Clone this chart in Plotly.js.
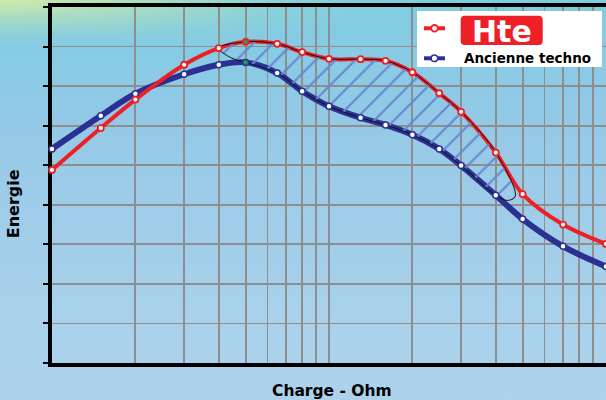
<!DOCTYPE html>
<html>
<head>
<meta charset="utf-8">
<script src="https://cdn.plot.ly/plotly-3.0.1.min.js"></script>
<style>
  html, body { margin: 0; padding: 0; width: 606px; height: 400px; overflow: hidden; }
  body {
    background:
      radial-gradient(ellipse 400px 48px at 0px 0px, rgba(212,236,165,0.95) 0%, rgba(190,228,180,0.6) 40%, rgba(160,218,200,0.25) 75%, rgba(130,205,225,0) 100%),
      linear-gradient(to bottom, #7fcde0 0%, #86cbe4 12%, #93c9e6 30%, #a0cde9 55%, #a9d1eb 80%, #add3ec 100%);
  }
  #chart { width: 606px; height: 400px; }
</style>
</head>
<body>
<div id="chart"></div>
<script>
// ---- Data ----
const chargeOhm = [1, 1.5, 2, 3, 4, 5, 6.5, 8, 10, 13, 16, 20, 25, 30, 40, 50, 70, 100];
const hteEnergy = [4.88, 5.94, 6.66, 7.54, 7.96, 8.12, 8.07, 7.86, 7.69, 7.68, 7.64, 7.35, 6.82, 6.35, 5.32, 4.27, 3.50, 3.01];
const ancienneEnergy = [5.41, 6.25, 6.81, 7.30, 7.54, 7.60, 7.33, 6.87, 6.49, 6.20, 6.02, 5.77, 5.41, 4.99, 4.24, 3.64, 2.95, 2.44];
const xTickVals = [1, 2, 3, 4, 5, 6, 7, 8, 9, 10, 20, 30, 40, 50, 60, 70, 80, 90, 100];
const seriesNames = ['Hte', 'Ancienne techno'];
// gain zone (hatched) : from Hte x=4 to x=40, Ancienne from x=40 back to x=5
const gainStartHte = 4, gainEndHte = 40, gainStartOld = 5;
const gainTipX = [47, 44];
const gainTipY = [4.21, 4.11];
const gainLeftCapX = [4.45];
const gainLeftCapY = [7.71];

// ---- Styles ----
const RED = '#ee1f26', BLUE = '#2b3192', GREEN = '#1f9e55', GRID = '#8e8e8e';
const FONT = 'DejaVu Sans, Liberation Sans, Arial, sans-serif';

// build hatched zone from the series
const iA = chargeOhm.indexOf(gainStartHte), iB = chargeOhm.indexOf(gainEndHte), iC = chargeOhm.indexOf(gainStartOld);
const zoneX = [], zoneY = [];
for (let i = iA; i <= iB; i++) { zoneX.push(chargeOhm[i]); zoneY.push(hteEnergy[i]); }
gainTipX.forEach((v, k) => { zoneX.push(v); zoneY.push(gainTipY[k]); });
for (let i = iB; i >= iC; i--) { zoneX.push(chargeOhm[i]); zoneY.push(ancienneEnergy[i]); }
gainLeftCapX.forEach((v, k) => { zoneX.push(v); zoneY.push(gainLeftCapY[k]); });
zoneX.push(chargeOhm[iA]); zoneY.push(hteEnergy[iA]);

const peakIdx = chargeOhm.indexOf(5);
const redMarkerColors = chargeOhm.map((_, i) => i === peakIdx ? GREEN : '#ffffff');
const blueMarkerColors = chargeOhm.map((_, i) => i === peakIdx ? GREEN : '#ffffff');

const traces = [
  { x: chargeOhm, y: ancienneEnergy, name: seriesNames[1], mode: 'lines', type: 'scatter',
    line: { color: BLUE, width: 6, shape: 'spline', smoothing: 1 }, showlegend: false, hoverinfo: 'skip' },
  { x: chargeOhm, y: hteEnergy, name: seriesNames[0], mode: 'lines', type: 'scatter',
    line: { color: RED, width: 4, shape: 'spline', smoothing: 1 }, showlegend: false, hoverinfo: 'skip' },
  { x: zoneX, y: zoneY, mode: 'lines', type: 'scatter', fill: 'toself',
    fillcolor: 'rgba(0,0,0,0)',
    fillpattern: { shape: '/', fgcolor: '#6788d0', bgcolor: 'rgba(0,0,0,0)', size: 14, solidity: 0.15, fillmode: 'replace' },
    line: { color: '#111111', width: 1, shape: 'spline', smoothing: 1 }, showlegend: false, hoverinfo: 'skip' },
  { x: chargeOhm, y: ancienneEnergy, name: seriesNames[1], mode: 'markers', type: 'scatter', cliponaxis: false,
    marker: { size: 6, color: blueMarkerColors, line: { color: BLUE, width: 1.5 } }, showlegend: false },
  { x: chargeOhm, y: hteEnergy, name: seriesNames[0], mode: 'markers', type: 'scatter', cliponaxis: false,
    marker: { size: 6, color: redMarkerColors, line: { color: RED, width: 1.8 } }, showlegend: false }
];

// pixel -> paper helpers for the hand-made legend
const L = 52, W = 554, B = 363, H = 356;
const px = x => (x - L) / W;
const py = y => (B - y) / H;

function roundRect(x0, y0, x1, y1, r) {
  const P = (x, y) => px(x) + ',' + py(y);
  return 'M' + P(x0 + r, y0) + ' L' + P(x1 - r, y0) + ' Q' + P(x1, y0) + ' ' + P(x1, y0 + r) +
    ' L' + P(x1, y1 - r) + ' Q' + P(x1, y1) + ' ' + P(x1 - r, y1) +
    ' L' + P(x0 + r, y1) + ' Q' + P(x0, y1) + ' ' + P(x0, y1 - r) +
    ' L' + P(x0, y0 + r) + ' Q' + P(x0, y0) + ' ' + P(x0 + r, y0) + ' Z';
}
function circ(cx, cy, r, fill, stroke, w) {
  return { type: 'circle', xref: 'paper', yref: 'paper', x0: px(cx - r), x1: px(cx + r), y0: py(cy + r), y1: py(cy - r),
    fillcolor: fill, line: { color: stroke, width: w } };
}

const shapes = [
  { type: 'rect', xref: 'paper', yref: 'paper', x0: px(417), x1: px(602), y0: py(67), y1: py(11),
    fillcolor: '#ffffff', line: { width: 0 } },
  { type: 'path', xref: 'paper', yref: 'paper', path: roundRect(460.7, 15.7, 542.7, 45, 4),
    fillcolor: '#ee1f26', line: { width: 0 } },
  { type: 'line', xref: 'paper', yref: 'paper', x0: px(424), x1: px(445), y0: py(28.3), y1: py(28.3),
    line: { color: RED, width: 4 } },
  circ(434.5, 28.3, 3.3, '#ffffff', RED, 1.8),
  { type: 'line', xref: 'paper', yref: 'paper', x0: px(424), x1: px(445), y0: py(58.3), y1: py(58.3),
    line: { color: BLUE, width: 4 } },
  circ(434.5, 58.3, 3.3, '#ffffff', BLUE, 1.5)
];

const annotations = [
  { xref: 'paper', yref: 'paper', x: px(501.7), y: py(31), xanchor: 'center', yanchor: 'middle', showarrow: false,
    text: '<b>' + seriesNames[0] + '</b>', font: { family: FONT, size: 30, color: '#ffffff' } },
  { xref: 'paper', yref: 'paper', x: px(462), y: py(57.5), xanchor: 'left', yanchor: 'middle', showarrow: false,
    text: '<b>' + seriesNames[1] + '</b>', font: { family: FONT, size: 13.5, color: '#000000' } },
  { xref: 'paper', yref: 'paper', x: px(13.5), y: py(203.7), xanchor: 'center', yanchor: 'middle', showarrow: false,
    textangle: -90, text: '<b>Energie</b>', font: { family: FONT, size: 16, color: '#000000' } },
  { xref: 'paper', yref: 'paper', x: px(331.7), y: py(390.5), xanchor: 'center', yanchor: 'middle', showarrow: false,
    text: '<b>Charge - Ohm</b>', font: { family: FONT, size: 15.5, color: '#000000' } }
];

const layout = {
  width: 606, height: 400,
  margin: { l: 52, r: 0, t: 7, b: 37, pad: 0 },
  paper_bgcolor: 'rgba(0,0,0,0)', plot_bgcolor: 'rgba(0,0,0,0)',
  showlegend: false,
  xaxis: {
    type: 'log', range: [0, 2], tickmode: 'array', tickvals: xTickVals, showticklabels: false, ticks: '',
    showgrid: true, gridcolor: GRID, gridwidth: 1.8, zeroline: false,
    showline: true, linecolor: '#000000', linewidth: 4, mirror: true, layer: 'below traces'
  },
  yaxis: {
    range: [0, 9], dtick: 1, tick0: 0, showticklabels: false, ticks: 'outside', ticklen: 5, tickwidth: 2, tickcolor: '#000000',
    showgrid: true, gridcolor: GRID, gridwidth: 1.8, zeroline: false,
    showline: true, linecolor: '#000000', linewidth: 4, layer: 'below traces'
  },
  shapes: shapes,
  annotations: annotations
};

Plotly.newPlot('chart', traces, layout, { displayModeBar: false, staticPlot: true });
</script>
</body>
</html>
